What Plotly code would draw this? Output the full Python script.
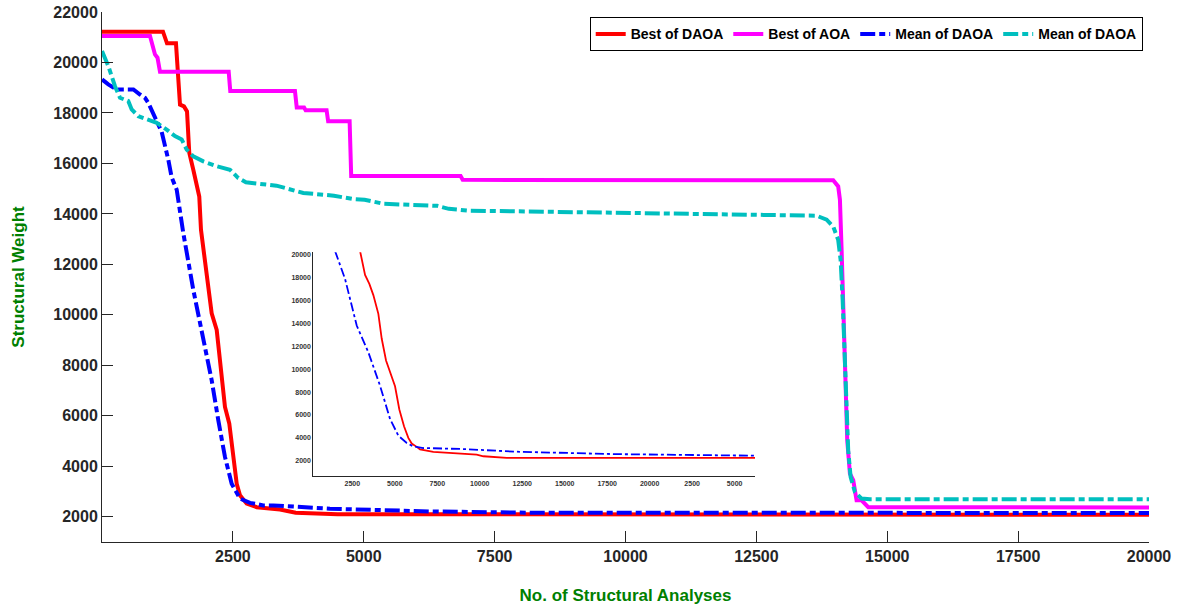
import plotly.graph_objects as go

# ---------------- main chart data ----------------
red_x = [0, 1165, 1242, 1413, 1490, 1566, 1624, 1667, 1744, 1858, 1891, 2000, 2095, 2191, 2286, 2349, 2431, 2508, 2573, 2636, 2764, 2955, 3400, 3700, 4500, 20000]
red_y = [21220, 21220, 20760, 20760, 18330, 18260, 18060, 16420, 15750, 14690, 13370, 11520, 10060, 9400, 7680, 6350, 5700, 4370, 3310, 2850, 2520, 2380, 2290, 2160, 2100, 2080]

magenta_x = [0, 917, 1012, 1060, 1108, 2420, 2450, 3686, 3720, 3860, 3890, 4290, 4320, 4730, 4760, 6850, 6890, 13968, 14063, 14096, 14128, 14160, 14191, 14236, 14287, 14350, 14414, 14510, 14637, 20000]
magenta_y = [21050, 21050, 20320, 20190, 19630, 19630, 18870, 18870, 18220, 18220, 18110, 18110, 17670, 17670, 15500, 15500, 15350, 15330, 15090, 14560, 12580, 9930, 7280, 5030, 3710, 3450, 2650, 2650, 2380, 2370]

blue_x = [0, 120, 280, 600, 726, 821, 884, 1012, 1140, 1266, 1330, 1427, 1553, 1744, 1935, 2095, 2222, 2349, 2477, 2636, 2827, 3081, 3272, 4355, 6265, 8175, 20000]
blue_y = [19330, 19130, 18930, 18930, 18730, 18600, 18400, 17800, 17250, 16150, 15450, 14960, 13240, 10990, 9000, 7410, 5820, 4370, 3310, 2720, 2550, 2450, 2450, 2320, 2210, 2160, 2150]

cyan_x = [0, 120, 248, 344, 502, 567, 694, 884, 1045, 1235, 1394, 1522, 1618, 1744, 1935, 2191, 2445, 2604, 2749, 3333, 3845, 4431, 4794, 5016, 5381, 6404, 6624, 6989, 9181, 11374, 12900, 13650, 13842, 13968, 14063, 14109, 14148, 14191, 14254, 14300, 14382, 14510, 14669, 20000]
cyan_y = [20450, 19860, 19060, 18600, 18470, 18140, 17870, 17740, 17610, 17340, 17080, 16950, 16550, 16280, 16080, 15890, 15750, 15420, 15250, 15120, 14830, 14720, 14590, 14560, 14400, 14320, 14200, 14130, 14070, 14010, 13930, 13930, 13770, 13500, 12970, 12180, 10590, 7940, 4640, 3580, 2980, 2720, 2690, 2690]

# ---------------- inset data ----------------
ired_x = [2953, 3247, 3500, 3735, 4030, 4229, 4482, 4718, 5012, 5265, 5541, 5794, 5994, 6288, 6482, 7265, 8641, 9229, 9817, 10210, 11587, 26200]
ired_y = [20300, 18220, 17440, 16460, 14820, 12650, 10750, 9820, 8510, 6480, 5020, 4000, 3510, 3220, 2990, 2780, 2690, 2640, 2550, 2400, 2260, 2260]

iblue_x = [1482, 2070, 2757, 3441, 4129, 4718, 5206, 5700, 6090, 6676, 9029, 12135, 17850, 26200]
iblue_y = [20300, 17870, 13800, 11470, 8560, 5650, 4200, 3560, 3260, 3120, 3030, 2800, 2590, 2450]

x_ticks = [2500, 5000, 7500, 10000, 12500, 15000, 17500, 20000]
x_labels = ["2500", "5000", "7500", "10000", "12500", "15000", "17500", "20000"]
y_ticks = [2000, 4000, 6000, 8000, 10000, 12000, 14000, 16000, 18000, 20000, 22000]
y_labels = ["2000", "4000", "6000", "8000", "10000", "12000", "14000", "16000", "18000", "20000", "22000"]
inset_x_ticks = [2500, 5000, 7500, 10000, 12500, 15000, 17500, 20000, 22500, 25000]
inset_x_labels = ["2500", "5000", "7500", "10000", "12500", "15000", "17500", "20000", "2500", "5000"]
inset_y_ticks = [2000, 4000, 6000, 8000, 10000, 12000, 14000, 16000, 18000, 20000]
inset_y_labels = ["2000", "4000", "6000", "8000", "10000", "12000", "14000", "16000", "18000", "20000"]

FONT = "Arial, 'Liberation Sans', sans-serif"
AX = "#262626"
GREEN = "#008000"
DASH = "15px,4px,6px,4px"

fig = go.Figure()
fig.add_trace(go.Scatter(x=red_x, y=red_y, mode="lines", name="Best of DAOA",
                         line=dict(color="#FF0000", width=4)))
fig.add_trace(go.Scatter(x=magenta_x, y=magenta_y, mode="lines", name="Best of AOA",
                         line=dict(color="#FF00FF", width=4)))
fig.add_trace(go.Scatter(x=blue_x, y=blue_y, mode="lines", name="Mean of DAOA",
                         line=dict(color="#0000FF", width=4, dash=DASH)))
fig.add_trace(go.Scatter(x=cyan_x, y=cyan_y, mode="lines", name="Mean of DAOA",
                         line=dict(color="#00BFBF", width=4, dash=DASH)))

fig.add_trace(go.Scatter(x=ired_x, y=ired_y, mode="lines", showlegend=False,
                         xaxis="x2", yaxis="y2", line=dict(color="#FF0000", width=1.8)))
fig.add_trace(go.Scatter(x=iblue_x, y=iblue_y, mode="lines", showlegend=False,
                         xaxis="x2", yaxis="y2", line=dict(color="#0000FF", width=1.8, dash="dashdot")))

fig.update_layout(
    width=1180, height=608,
    margin=dict(l=102, r=31, t=12, b=66, autoexpand=False),
    paper_bgcolor="white", plot_bgcolor="white",
    showlegend=True,
    legend=dict(orientation="h", x=0.994, xanchor="right", y=0.99, yanchor="top",
                bgcolor="white", bordercolor="#000000", borderwidth=1,
                font=dict(family=FONT, size=14, color="black", weight="bold"),
                itemwidth=30, tracegroupgap=0),
    xaxis=dict(range=[0, 20000], tickvals=x_ticks, ticktext=x_labels, showgrid=False, zeroline=False,
               showline=True, linecolor=AX, linewidth=1, mirror=False,
               ticks="inside", ticklen=11, tickcolor=AX, tickwidth=1,
               tickfont=dict(family=FONT, size=16, color=AX, weight="bold"),
               title=dict(text="No. of Structural Analyses", standoff=24,
                          font=dict(family=FONT, size=17, color=GREEN, weight="bold"))),
    yaxis=dict(range=[1000, 22000], tickvals=y_ticks, ticktext=y_labels, showgrid=False, zeroline=False,
               showline=True, linecolor=AX, linewidth=1, mirror=False,
               ticks="inside", ticklen=11, tickcolor=AX, tickwidth=1,
               tickfont=dict(family=FONT, size=16, color=AX, weight="bold"),
               title=dict(text="Structural Weight", standoff=24,
                          font=dict(family=FONT, size=17, color=GREEN, weight="bold"))),
    xaxis2=dict(domain=[0.2018, 0.6237], anchor="y2", range=[200, 26200],
                tickvals=inset_x_ticks, ticktext=inset_x_labels,
                showgrid=False, zeroline=False, showline=True, linecolor=AX, linewidth=1,
                ticks="", tickfont=dict(family=FONT, size=7, color="#333333", weight="bold")),
    yaxis2=dict(domain=[0.1239, 0.5468], anchor="x2", range=[650, 20200],
                tickvals=inset_y_ticks, ticktext=inset_y_labels,
                showgrid=False, zeroline=False, showline=True, linecolor=AX, linewidth=1,
                ticks="", tickfont=dict(family=FONT, size=7, color="#333333", weight="bold")),
)

fig.write_html("out.html")
